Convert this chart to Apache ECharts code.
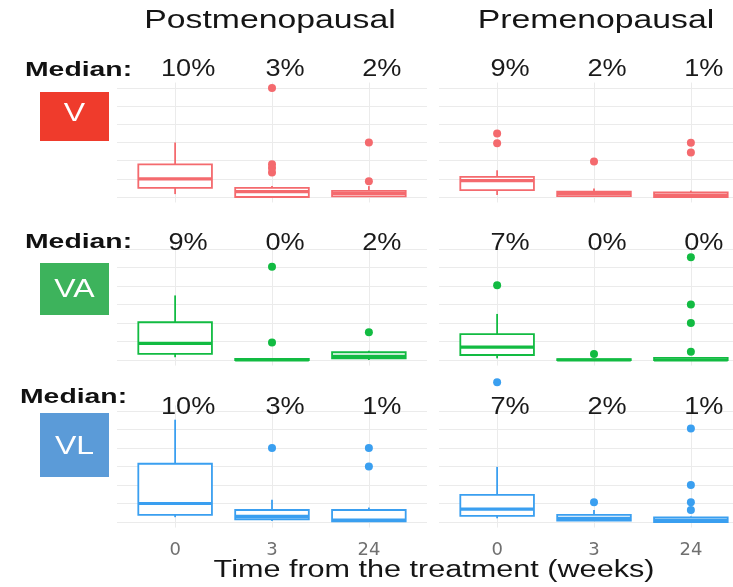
<!DOCTYPE html>
<html>
<head>
<meta charset="utf-8">
<script src="https://cdn.jsdelivr.net/npm/echarts@6/dist/echarts.min.js"></script>
<style>
  html, body { margin: 0; padding: 0; background: #ffffff; }
  #chart { width: 733px; height: 587px; }
</style>
</head>
<body>
<div id="chart"></div>
<script>
// ---- data -------------------------------------------------------------
const timeLabels = ['0', '3', '24'];
const groupNames = ['Postmenopausal', 'Premenopausal'];
const markerNames = ['V', 'VA', 'VL'];
const yTicks = [0, 10, 20, 30, 40, 50, 60];

// box statistics per time point: [lower whisker, Q1, median, Q3, upper whisker] in %
const vPostBox  = [[1.6, 5, 10, 18, 30], [0, 0, 3, 5, 6], [0, 0.3, 2, 3.4, 6]];
const vPreBox   = [[1.1, 3.8, 9, 11.1, 14.7], [0, 0.5, 2, 2.9, 4.7], [0, 0, 1, 2.6, 3.5]];
const vaPostBox = [[1.5, 3.3, 9, 20.4, 34.9], [0, 0, 0, 0.6, 0.6], [0, 0.9, 2, 4.2, 5]];
const vaPreBox  = [[0.9, 2.7, 7, 14, 24.9], [0, 0, 0, 0.5, 0.5], [0, 0, 0, 1.2, 1.5]];
const vlPostBox = [[2.6, 3.8, 10, 31.5, 55.3], [0.5, 1.5, 3, 6.5, 12], [0, 0.3, 1, 6.5, 7.8]];
const vlPreBox  = [[2, 3.3, 7, 14.7, 29.8], [0.5, 0.8, 2, 3.8, 6.5], [0, 0, 1, 2.5, 3]];

// outlying observations per time point in %
const vPostOut  = [[], [13.5, 16, 18, 60], [8.7, 30]];
const vPreOut   = [[29.6, 35], [19.6], [24.5, 29.8]];
const vaPostOut = [[], [9.5, 50.4], [15]];
const vaPreOut  = [[40.4], [3.3], [4.5, 20, 30, 55.5]];
const vlPostOut = [[], [40], [30, 40]];
const vlPreOut  = [[75.6], [10.7], [6.5, 10.7, 20, 50.5]];

// ---- layout & style ---------------------------------------------------
const panels = [
  { row: 0, col: 0, box: vPostBox,  out: vPostOut },
  { row: 0, col: 1, box: vPreBox,   out: vPreOut },
  { row: 1, col: 0, box: vaPostBox, out: vaPostOut },
  { row: 1, col: 1, box: vaPreBox,  out: vaPreOut },
  { row: 2, col: 0, box: vlPostBox, out: vlPostOut },
  { row: 2, col: 1, box: vlPreBox,  out: vlPreOut }
];
const lineColors = ['#f46a6e', '#12bb42', '#3a9ff0'];
const badgeColors = ['#ef3b2c', '#3db35c', '#5b9bd8'];
const colLeft = [117, 439];
const colWidth = 310;
const rowZeroPx = [197, 360, 522];
const rowTopTickPx = [88, 249, 411];
const yMin = -3, yMax = 63;
const medianLabelY = [70, 243.5, 408];
const medianLabelDx = 13;
const fontFamily = 'Liberation Sans, Arial, sans-serif';
const gridColor = '#ebebeb';

function boxRenderer(color, labelY) {
  return function (params, api) {
    const x = api.value(0);
    const pt = v => api.coord([x, v]);
    const low = pt(api.value(1));
    const q1 = pt(api.value(2));
    const med = pt(api.value(3));
    const q3 = pt(api.value(4));
    const up = pt(api.value(5));
    const half = api.size([0.76, 0])[0] / 2;
    const cx = med[0];
    return {
      type: 'group',
      children: [
        { type: 'line', shape: { x1: cx, y1: q3[1], x2: cx, y2: up[1] },
          style: { stroke: color, lineWidth: 1.8 } },
        { type: 'line', shape: { x1: cx, y1: q1[1], x2: cx, y2: low[1] },
          style: { stroke: color, lineWidth: 1.8 } },
        { type: 'rect', shape: { x: cx - half, y: q3[1], width: half * 2, height: q1[1] - q3[1] },
          style: { fill: '#ffffff', stroke: color, lineWidth: 1.8 } },
        { type: 'line', shape: { x1: cx - half, y1: med[1], x2: cx + half, y2: med[1] },
          style: { stroke: color, lineWidth: 3.2 } },
        { type: 'text', x: cx + medianLabelDx, y: labelY, scaleX: 1.18,
          style: { text: api.value(3) + '%', fill: '#1a1a1a', fontSize: 23, fontFamily: fontFamily,
                   align: 'center', verticalAlign: 'middle' } }
      ]
    };
  };
}

const grids = [], xAxes = [], yAxes = [], series = [];
panels.forEach((p, i) => {
  const unit = (rowZeroPx[p.row] - rowTopTickPx[p.row]) / 60;
  grids.push({
    left: colLeft[p.col], width: colWidth,
    top: rowTopTickPx[p.row] - (yMax - 60) * unit,
    height: (yMax - yMin) * unit,
    containLabel: false,
    outerBoundsMode: 'none'
  });
  const bottomRow = p.row === 2;
  xAxes.push({
    type: 'value', gridIndex: i, min: 0.4, max: 3.6,
    axisLine: { show: false },
    axisTick: { show: false, customValues: [1, 2, 3] },
    axisLabel: {
      show: bottomRow, customValues: [1, 2, 3],
      formatter: v => timeLabels[Math.round(v) - 1],
      color: '#707070', fontSize: 18, fontFamily: 'DejaVu Sans', margin: 14
    },
    splitLine: { show: true, lineStyle: { color: gridColor, width: 1 } }
  });
  yAxes.push({
    type: 'value', gridIndex: i, min: yMin, max: yMax,
    axisLine: { show: false },
    axisTick: { show: false, customValues: yTicks },
    axisLabel: { show: false },
    splitLine: { show: true, lineStyle: { color: gridColor, width: 1 } }
  });
  const color = lineColors[p.row];
  series.push({
    type: 'custom', xAxisIndex: i, yAxisIndex: i, clip: false,
    renderItem: boxRenderer(color, medianLabelY[p.row]),
    encode: { x: 0, y: [1, 2, 3, 4, 5] },
    data: p.box.map((b, k) => [k + 1].concat(b)),
    silent: true
  });
  const pts = [];
  p.out.forEach((vals, k) => vals.forEach(v => pts.push([k + 1, v])));
  series.push({
    type: 'scatter', xAxisIndex: i, yAxisIndex: i, clip: false,
    symbolSize: 8, itemStyle: { color: color, opacity: 1 },
    data: pts, silent: true
  });
});

// headings, row badges and the shared x-axis title
const graphics = [];
function addText(text, x, y, size, scaleX) {
  graphics.push({
    type: 'text', x: x, y: y, scaleX: scaleX, silent: true,
    style: { text: text, fill: '#151515', fontSize: size, fontFamily: fontFamily,
             align: 'center', verticalAlign: 'middle', textAlign: 'center', textVerticalAlign: 'middle' }
  });
}
addText(groupNames[0], 270, 21, 25, 1.35);
addText(groupNames[1], 596, 21, 25, 1.35);
addText('Time from the treatment (weeks)', 434, 571, 23, 1.33);

const medianWordY = [70.5, 242.5, 397.5];
const medianWordX = [25, 25, 20];
const badgeBox = [[40, 92, 69, 49], [40, 263, 69, 52], [40, 413, 69, 64]];
const badgeTextY = [114, 290, 447];
markerNames.forEach((name, r) => {
  graphics.push({
    type: 'text', x: medianWordX[r], y: medianWordY[r], scaleX: 1.35, silent: true,
    style: { text: 'Median:', fill: '#111111', fontSize: 21, fontWeight: 'bold', fontFamily: fontFamily,
             align: 'left', verticalAlign: 'middle', textAlign: 'left', textVerticalAlign: 'middle' }
  });
  const b = badgeBox[r];
  graphics.push({
    type: 'rect', silent: true,
    shape: { x: b[0], y: b[1], width: b[2], height: b[3] },
    style: { fill: badgeColors[r] }
  });
  graphics.push({
    type: 'text', x: b[0] + b[2] / 2, y: badgeTextY[r], scaleX: 1.28, silent: true,
    style: { text: name, fill: '#ffffff', fontSize: 25, fontFamily: fontFamily,
             align: 'center', verticalAlign: 'middle', textAlign: 'center', textVerticalAlign: 'middle' }
  });
});

const chart = echarts.init(document.getElementById('chart'), null, { renderer: 'canvas' });
chart.setOption({
  animation: false,
  backgroundColor: '#ffffff',
  grid: grids,
  xAxis: xAxes,
  yAxis: yAxes,
  series: series,
  graphic: { elements: graphics }
});
</script>
</body>
</html>
